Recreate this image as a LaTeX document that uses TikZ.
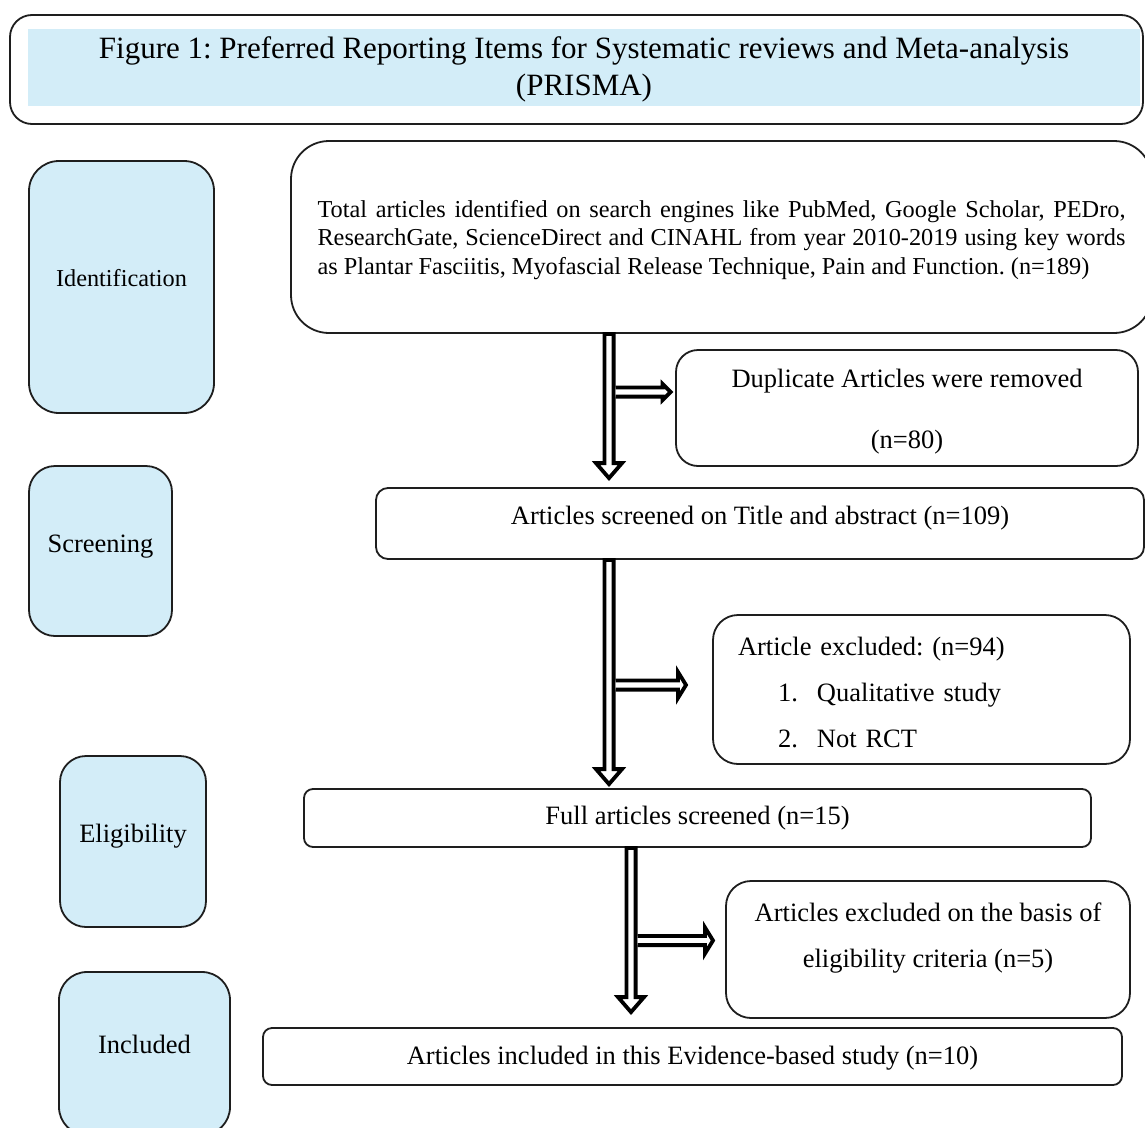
\documentclass[tikz,border=0pt]{standalone}
\usepackage{fontspec}
\setmainfont{Liberation Serif}
\usetikzlibrary{calc}
\frenchspacing
\definecolor{lblue}{RGB}{211,237,248}
\definecolor{edge}{RGB}{30,30,30}
\newcommand\myfs[2]{\fontsize{#1}{#2}\selectfont}
\newcommand\blkdown[2]{\draw[barrow] ($(#1)+(-4.6,0)$) -- ($(#2)+(-4.6,-15)$) -- ($(#2)+(-13,-15)$) -- (#2) -- ($(#2)+(13,-15)$) -- ($(#2)+(4.6,-15)$) -- ($(#1)+(4.6,0)$) -- cycle;}
\newcommand\blkright[3]{\draw[barrow] ($(#1)+(0,-4.6)$) -- ($(#2)+(-8,-4.6)$) -- ($(#2)+(-8,-#3)$) -- (#2) -- ($(#2)+(-8,#3)$) -- ($(#2)+(-8,4.6)$) -- ($(#1)+(0,4.6)$);}
\tikzset{
  box/.style={draw=edge, line width=1.8pt, fill=white, inner sep=0pt},
  sidebox/.style={box, fill=lblue, rounded corners=30pt},
  lbl/.style={inner sep=0pt, align=center, font=\myfs{26.5}{30}},
  barrow/.style={draw=black, line width=3.8pt, fill=white, line join=miter},
}
\begin{document}
\begin{tikzpicture}[x=1pt,y=-1pt]
\useasboundingbox (0,0) rectangle (1145,1127);
\clip (0,0) rectangle (1145,1127);

% title
\node[box, rounded corners=22pt, minimum width=1133pt, minimum height=109pt] (frame) at (576.5,69.5) {};
\node[fill=lblue, inner sep=0pt, minimum width=1112pt, minimum height=77pt,
  label={[lbl, font=\myfs{31}{37}, yshift=-2pt]center:Figure 1: Preferred Reporting Items for Systematic reviews and Meta-analysis\\(PRISMA)}] (title) at (584,67.5) {};

% side stage boxes
\node[sidebox, minimum width=185pt, minimum height=252pt,
  label={[lbl, font=\myfs{24.3}{28}, yshift=9pt]center:Identification}] (ident) at (121.5,287) {};
\node[sidebox, rounded corners=26pt, minimum width=143pt, minimum height=170pt,
  label={[lbl, yshift=4pt]center:Screening}] (scr) at (100.5,551) {};
\node[sidebox, rounded corners=26pt, minimum width=146pt, minimum height=171pt,
  label={[lbl, yshift=5pt]center:Eligibility}] (elig) at (133,841.5) {};
\node[sidebox, rounded corners=28pt, minimum width=171pt, minimum height=163pt,
  label={[lbl, yshift=9pt]center:Included}] (inc) at (144.5,1053.5) {};

% main flow boxes
\node[box, rounded corners=38pt, minimum width=861pt, minimum height=192pt,
  label={[inner sep=0pt, text width=808pt, align=justify, font=\myfs{24.3}{28.5}, yshift=-3pt]center:{\hyphenpenalty=10000 Total articles identified on search engines like PubMed, Google Scholar, PEDro,\linebreak ResearchGate, ScienceDirect and CINAHL from year 2010-2019 using key words\linebreak as Plantar Fasciitis, Myofascial Release Technique, Pain and Function. (n=189)}}] (main) at (721.5,237) {};

\node[box, rounded corners=22pt, minimum width=462pt, minimum height=116pt,
  label={[lbl, font=\myfs{26.5}{61}, yshift=-4pt]center:Duplicate Articles were removed\\(n=80)}] (dup) at (907,408) {};

\node[box, rounded corners=12pt, minimum width=768pt, minimum height=71pt,
  label={[lbl, yshift=5pt]center:Articles screened on Title and abstract (n=109)}] (screen) at (760,523.5) {};

\node[box, rounded corners=25pt, minimum width=417pt, minimum height=149pt,
  label={[inner sep=0pt, text width=367pt, align=left, font=\myfs{26.5}{46}, yshift=-3pt]center:{Article excluded: (n=94)\\
   \hspace*{40pt}\makebox[39pt][l]{1.}Qualitative study\\
   \hspace*{40pt}\makebox[39pt][l]{2.}Not RCT}}] (excl) at (921.5,689.5) {};

\node[box, rounded corners=9pt, minimum width=787pt, minimum height=58pt,
  label={[lbl]center:Full articles screened (n=15)}] (full) at (697.5,818) {};

\node[box, rounded corners=25pt, minimum width=404pt, minimum height=137pt,
  label={[lbl, font=\myfs{26.5}{46}, yshift=11.5pt]center:Articles excluded on the basis of\\eligibility criteria (n=5)}] (eligex) at (928,949.5) {};

\node[box, rounded corners=9pt, minimum width=859pt, minimum height=57pt,
  label={[lbl, yshift=-2pt]center:Articles included in this Evidence-based study (n=10)}] (incl) at (692.5,1056.5) {};

% arrows
\coordinate (v1) at (609,0);
\coordinate (v3) at (631,0);
\coordinate (s1) at (main.south -| v1);
\coordinate (t1) at ($(screen.north -| v1)+(0,-9)$);
\coordinate (s2) at (screen.south -| v1);
\coordinate (t2) at ($(full.north -| v1)+(0,-4)$);
\coordinate (s3) at (full.south -| v3);
\coordinate (t3) at ($(incl.north -| v3)+(0,-15)$);
\coordinate (h1s) at (615.5,392);
\coordinate (h1t) at ($(h1s -| dup.west)+(-4.5,0)$);
\coordinate (h2s) at (615.5,685);
\coordinate (h2t) at (686,685);
\coordinate (h3s) at (637.5,940.5);
\coordinate (h3t) at (713,940.5);

\blkdown{s1}{t1}
\blkdown{s2}{t2}
\blkdown{s3}{t3}
\blkright{h1s}{h1t}{8}
\blkright{h2s}{h2t}{13}
\blkright{h3s}{h3t}{13}
\end{tikzpicture}
\end{document}
